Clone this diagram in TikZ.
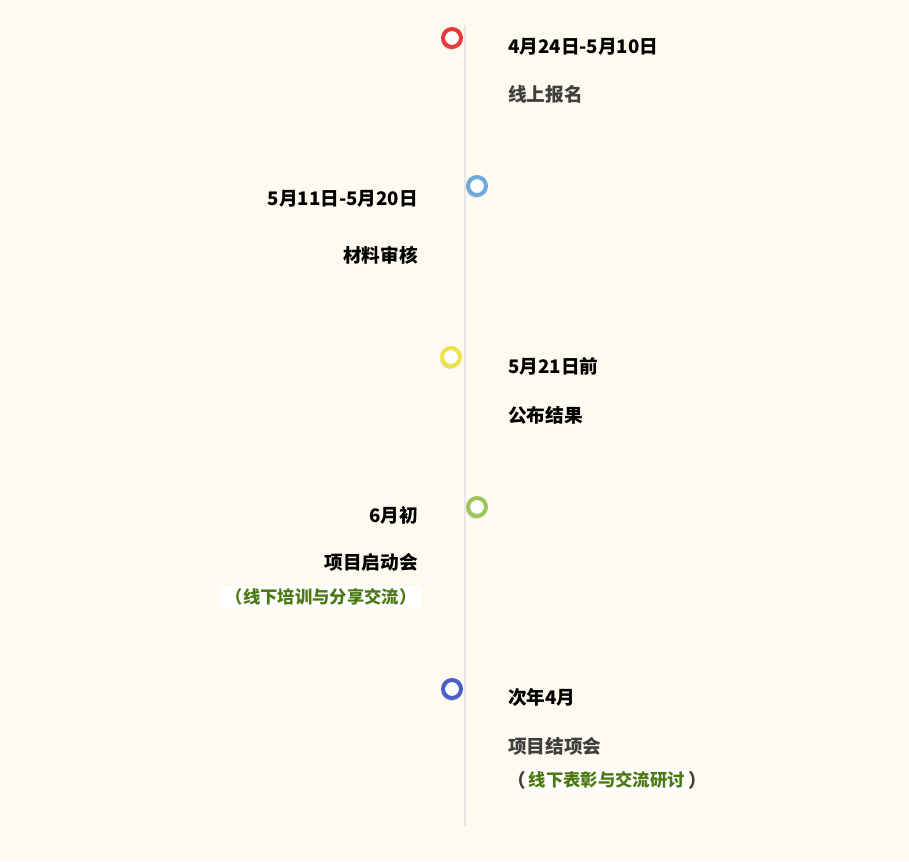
\documentclass[tikz,border=0pt]{standalone}
\usepackage{fontspec}
\setmainfont{Noto Sans CJK SC}
\usepackage{xcolor}
\usepackage{tikz}
\usetikzlibrary{positioning, shadows}
\definecolor{paper}{HTML}{FEFAEF}
\definecolor{axis}{HTML}{E6E6E6}
\definecolor{dotred}{HTML}{E8393C}
\definecolor{dotblue}{HTML}{6FA8DC}
\definecolor{dotyellow}{HTML}{EEE44A}
\definecolor{dotgreen}{HTML}{9CC65A}
\definecolor{dotnavy}{HTML}{4A5FC8}
\definecolor{greytext}{HTML}{3F3F3F}
\definecolor{notegreen}{HTML}{4C7A12}
\tikzstyle{dot} = [circle, fill=white, line width=3pt, minimum size=13.5pt, inner sep=0pt, circular drop shadow={shadow xshift=-1pt, shadow yshift=-1.5pt, opacity=0.35}]
\tikzstyle{date} = [inner sep=0pt, font=\fontsize{14}{16}\selectfont\bfseries, text=black]
\tikzstyle{event} = [inner sep=0pt, font=\fontsize{14}{16}\selectfont\bfseries]
\tikzstyle{note} = [fill=white, inner sep=2pt, font=\fontsize{13}{15}\selectfont\bfseries, text=notegreen]

\begin{document}
\begin{tikzpicture}[x=0.75pt, y=-0.75pt]
    \fill [paper] (0,0) rectangle (909,861);
    \useasboundingbox (0,0) rectangle (909,861);

    % axis
    \coordinate (top) at (465,25);
    \coordinate (bottom) at (465,826);
    \draw [axis, line width=1.5pt] (top) -- (bottom);

    % dots
    \node (dot1) [dot, draw=dotred] at (452,38) {};
    \node (dot2) [dot, draw=dotblue] at (477,186) {};
    \node (dot3) [dot, draw=dotyellow] at (451,357) {};
    \node (dot4) [dot, draw=dotgreen] at (477,507) {};
    \node (dot5) [dot, draw=dotnavy] at (452,689) {};

    % right side
    \node (date1) [date, anchor=west] at (508,47) {4月24日-5月10日};
    \node (event1) [event, anchor=west, text=greytext] at (508,94) {线上报名};

    \node (date3) [date, anchor=west] at (508,366) {5月21日前};
    \node (event3) [event, anchor=west] at (508,415) {公布结果};

    \node (date5) [date, anchor=west] at (508,697) {次年4月};
    \node (event5) [event, anchor=west, text=greytext] at (508,746) {项目结项会};
    \node (note5) [note, anchor=west] at (526,780) {线下表彰与交流研讨};
    \node (lpar5) [event, text=greytext, left=0pt of note5] {（};
    \node (rpar5) [event, text=greytext, right=0pt of note5] {）};

    % left side
    \node (date2) [date, anchor=east] at (418,199) {5月11日-5月20日};
    \node (event2) [event, anchor=east] at (418,255) {材料审核};

    \node (date4) [date, anchor=east] at (418,515) {6月初};
    \node (event4) [event, anchor=east] at (418,562) {项目启动会};
    \node (note4) [note, anchor=east, inner xsep=4pt] at (422,597) {（线下培训与分享交流）};
\end{tikzpicture}
\end{document}
